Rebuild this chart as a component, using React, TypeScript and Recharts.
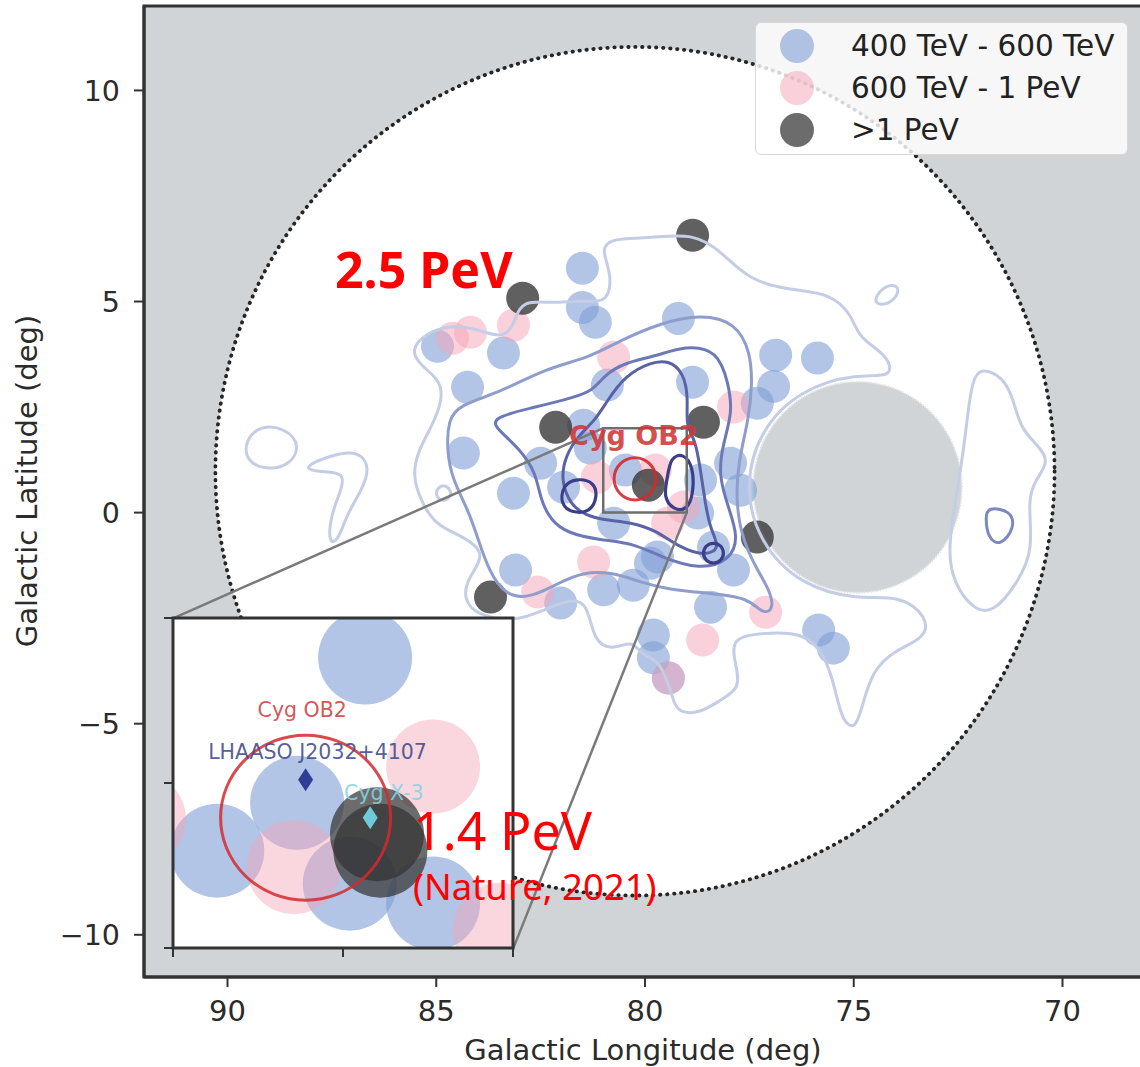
import React from 'react';
import {
  ComposedChart,
  XAxis,
  YAxis,
  CartesianGrid,
  Scatter,
  Line,
  ReferenceArea,
  Legend,
} from 'recharts';

// ---- main panel axes (galactic l, b in deg) ----
const lonDomain: [number, number] = [68, 92];
const latDomain: [number, number] = [-11, 12];
const lonTicks = [90, 85, 80, 75, 70];
const latTicks = [10, 5, 0, -5, -10];

// field of view and the masked region, [l, b, radius]
const fieldOfView = [[80.24, 0.98, 10.05]];
const maskedRegion = [[74.91, 0.6, 2.5]];

// photon directions [l, b]
const photons400to600 = [
  [81.5, 5.79], [81.5, 4.86], [81.19, 4.51], [79.2, 4.6], [83.39, 3.78], [84.97, 3.94],
  [84.25, 2.97], [80.9, 3.02], [78.86, 3.09], [76.87, 3.73], [75.87, 3.66], [76.92, 2.99],
  [77.31, 2.59], [84.35, 1.41], [82.5, 1.17], [81.31, 1.53], [83.15, 0.46], [81.95, 0.6],
  [78.67, 0.77], [80.75, -0.25], [78.74, -0.01], [77.95, 1.17], [77.71, 0.53], [78.36, -0.82],
  [77.88, -1.36], [79.7, -1.05], [83.1, -1.36], [82.02, -2.14], [80.99, -1.83], [80.28, -1.72],
  [79.87, -1.2], [78.43, -2.24], [79.8, -2.9], [79.8, -3.44], [79.44, -3.92], [75.84, -2.78],
  [75.49, -3.21], [81.47, 2.07], [80.47, 1.01],
];
const photons600to1000 = [
  [84.61, 4.13], [84.18, 4.27], [83.15, 4.44], [80.75, 3.68], [77.88, 2.5], [81.14, 0.84],
  [79.08, 0.13], [81.23, -1.17], [82.57, -1.88], [77.11, -2.36], [78.62, -3.02], [79.44, -3.92],
  [79.46, -0.25], [79.75, 1.01],
];
const photonsAbove1PeV = [
  [78.86, 6.57], [82.93, 5.08], [82.14, 2.02], [78.6, 2.14], [79.92, 0.65], [77.31, -0.58],
  [83.7, -2.0],
];

// significance contours, closed outlines [l, b]
const contourOuter = [
  [85.62, 3.85], [85.26, 4.25], [84.66, 4.44], [84.06, 4.37], [83.34, 4.08], [83.1, 4.6],
  [82.93, 5.03], [82.26, 4.96], [81.43, 5.03], [80.9, 4.96], [80.78, 5.62], [81.07, 6.26],
  [80.78, 6.5], [79.87, 6.5], [78.86, 6.62], [78.19, 6.21], [77.52, 5.5], [76.51, 5.27],
  [75.56, 5.2], [75.03, 4.67], [74.89, 4.13], [74.17, 3.73], [74.05, 3.18], [74.91, 3.3],
  [76.28, 2.92], [77.26, 1.95], [77.62, 0.6], [77.26, -0.72], [76.28, -1.72], [74.91, -2.07],
  [73.88, -1.95], [73.23, -2.47], [73.28, -2.97], [74.0, -3.25], [74.55, -3.73], [74.79, -4.56],
  [74.96, -5.15], [75.27, -4.96], [75.44, -4.2], [75.68, -3.37], [76.2, -2.83], [77.16, -2.85],
  [77.95, -2.95], [77.83, -3.61], [77.71, -4.15], [78.19, -4.44], [78.67, -4.75], [79.22, -4.75],
  [79.34, -4.37], [79.63, -3.49], [80.11, -3.37], [80.28, -3.02], [80.75, -3.25], [81.23, -3.09],
  [81.38, -2.07], [81.86, -2.07], [82.43, -2.31], [83.1, -2.59], [84.06, -2.43], [84.35, -2.02],
  [84.25, -1.55], [83.77, -0.96], [84.42, -0.53], [85.02, -0.3], [85.38, 0.3], [85.57, 0.89],
  [85.43, 1.48], [85.09, 2.07], [84.85, 2.66], [84.9, 3.14], [85.38, 3.49],
];
const contourEastLobe = [
  [71.96, 3.44], [71.41, 3.21], [71.17, 2.66], [71.01, 2.02], [70.65, 1.64], [70.29, 1.24],
  [70.65, 0.77], [70.84, 0.3], [70.69, -0.89], [71.08, -1.67], [71.65, -2.38], [72.13, -2.31],
  [72.61, -1.67], [72.75, -0.89], [72.56, 0.3], [72.37, 1.48], [72.28, 2.26], [72.16, 3.14],
];
const contourWestIsland = [
  [89.57, 1.72], [89.21, 2.07], [88.61, 2.0], [88.25, 1.6], [88.49, 1.12], [89.09, 1.0], [89.57, 1.24],
];
const contourWestTail = [
  [88.25, 1.05], [87.53, 1.36], [86.86, 1.48], [86.57, 1.05], [86.81, 0.49], [87.15, -0.06],
  [87.34, -0.65], [87.58, -0.77], [87.53, -0.06], [87.29, 0.49], [87.17, 0.96], [87.77, 0.96],
];
const contourSmallRing = [[85.08, 0.46], [84.83, 0.72], [84.57, 0.46], [84.83, 0.2]];
const contourNorthEast = [[74.55, 5.03], [74.24, 5.41], [73.88, 5.38], [74.0, 5.03], [74.36, 4.89]];
const contourLevel2 = [
  [84.47, 2.54], [83.46, 2.85], [82.38, 3.42], [81.35, 3.66], [80.59, 4.08], [79.63, 4.49],
  [78.67, 4.7], [77.83, 4.51], [77.47, 3.8], [77.43, 3.02], [77.52, 2.19], [77.76, 1.24],
  [77.83, 0.3], [77.67, -0.65], [77.31, -1.36], [76.95, -1.95], [76.95, -2.36], [77.23, -2.36],
  [77.52, -2.02], [78.43, -1.91], [79.39, -1.83], [80.11, -1.65], [80.78, -1.41], [81.5, -1.41],
  [82.07, -1.67], [82.74, -2.02], [83.34, -1.98], [83.75, -1.36], [83.99, -0.65], [84.23, 0.06],
  [84.61, 0.77], [84.75, 1.48], [84.71, 2.19],
];
const contourLevel3 = [
  [83.75, 2.24], [82.62, 2.5], [81.98, 2.66], [81.26, 2.85], [80.99, 3.25], [80.47, 3.56],
  [79.75, 3.7], [79.03, 3.96], [78.26, 3.85], [78.0, 3.06], [77.9, 2.38], [78.14, 1.6],
  [78.24, 0.89], [78.0, 0.11], [77.76, -0.58], [77.95, -1.12], [78.67, -1.36], [79.63, -1.05],
  [80.28, -0.72], [81.07, -0.65], [81.86, -0.49], [82.26, -0.18], [82.5, 0.3], [82.62, 0.96],
  [82.98, 1.48], [83.46, 1.91],
];
const contourLevel4 = [
  [81.19, 2.19], [80.9, 2.66], [80.47, 3.25], [79.87, 3.56], [79.44, 3.61], [79.08, 3.33],
  [78.96, 2.71], [79.03, 2.07], [78.79, 1.72], [78.67, 1.0], [78.55, 0.18], [78.43, -0.41],
  [78.19, -0.84], [78.55, -1.03], [79.15, -0.84], [79.75, -0.41], [80.35, -0.23], [80.95, -0.18],
  [81.43, -0.06], [81.78, 0.18], [82.02, 0.77], [81.9, 1.36], [81.59, 1.83],
];
const contourCoreWest = [[82.02, 0.18], [81.98, 0.65], [81.62, 0.82], [81.21, 0.72], [81.14, 0.37], [81.31, 0.01], [81.74, -0.01]];
const contourCoreEast = [[79.46, 0.84], [79.39, 1.31], [79.08, 1.41], [78.84, 1.08], [78.84, 0.46], [78.98, 0.06], [79.32, 0.06], [79.56, 0.37]];
const contourCoreRing = [
  [78.62, -0.96], [78.55, -0.78], [78.36, -0.7], [78.17, -0.78], [78.1, -0.96], [78.17, -1.14],
  [78.36, -1.22], [78.55, -1.14],
];
const contourEastSpot = [[71.8, 0.13], [71.25, 0.06], [71.13, -0.34], [71.49, -0.82], [71.8, -0.58], [71.84, -0.11]];

// Cyg OB2 region [l, b, radius] and its label
const cygOB2Region = [[80.24, 0.8, 0.5]];
const cygOB2Label = [{ x: 80.28, y: 1.83, text: 'Cyg OB2' }];

// zoom box and connector end points
const zoomLon: [number, number] = [79, 81];
const zoomLat: [number, number] = [0, 2];
const connectorTop = [[81, 2], [91.29, -2.5]];
const connectorBottom = [[79, 0], [83.15, -10.31]];

// ---- inset ----
const insetLonTicks = [81, 80, 79];
const insetLatTicks = [2, 1, 0];
const insetBlue = [[79.87, 1.76], [80.27, 0.88], [80.74, 0.59], [79.96, 0.39], [79.47, 0.27]];
const insetPink = [[79.47, 1.1], [80.29, 0.49], [79.08, 0.11], [81.2, 0.78]];
const insetDark = [[79.8, 0.69], [79.78, 0.59]];
const insetRegion = [[80.22, 0.79, 0.5]];
const lhaasoSource = [[80.22, 1.02]];
const cygX3 = [[79.84, 0.79]];
const insetLabels = [
  { x: 80.24, y: 1.44, text: 'Cyg OB2', color: '#d13f3f' },
  { x: 80.15, y: 1.19, text: 'LHAASO J2032+4107', color: '#3f4c8c' },
  { x: 79.76, y: 0.94, text: 'Cyg X-3', color: '#86d2e0' },
];

const legendEntries = [
  { name: '400 TeV - 600 TeV', fill: '#7f9ed6', opacity: 0.6 },
  { name: '600 TeV - 1 PeV', fill: '#f5a3b5', opacity: 0.5 },
  { name: '>1 PeV', fill: '#333333', opacity: 0.72 },
];

// layout
const W = 1150;
const H = 1067;
const MARGIN = { top: 6, right: 4, left: 0, bottom: 0 };
const Y_W = 144;
const X_H = 90;
const pxLon = (W - MARGIN.right - Y_W) / (lonDomain[1] - lonDomain[0]);
const pxLat = (H - MARGIN.top - X_H) / (latDomain[1] - latDomain[0]);
const IN_W = 340;
const IN_H = 330;
const inPxLon = IN_W / (zoomLon[1] - zoomLon[0]);
const inPxLat = IN_H / (zoomLat[1] - zoomLat[0]);

const BLUE = '#7f9ed6';
const PINK = '#f5a3b5';
const DARK = '#333333';
const FONT = "'DejaVu Sans', sans-serif";

const xy = (a: number[][]) => a.map(([x, y]) => ({ x, y }));
const xyr = (a: number[][]) => a.map(([x, y, r]) => ({ x, y, r }));

const disc = (r: number, fill: string, opacity: number) => (p: any) => (
  <circle cx={p.cx} cy={p.cy} r={r} fill={fill} fillOpacity={opacity} />
);

const skyCircle = (kx: number, ky: number, style: any) => (p: any) => (
  <ellipse cx={p.cx} cy={p.cy} rx={p.payload.r * kx} ry={p.payload.r * ky} {...style} />
);

const diamond = (w: number, h: number, fill: string) => (p: any) => (
  <path d={`M${p.cx},${p.cy - h}L${p.cx + w},${p.cy}L${p.cx},${p.cy + h}L${p.cx - w},${p.cy}Z`} fill={fill} />
);

const caption = (size: number, weight: number, color?: string) => (p: any) => (
  <text
    x={p.cx}
    y={p.cy}
    textAnchor="middle"
    dominantBaseline="central"
    fontFamily={FONT}
    fontSize={size}
    fontWeight={weight}
    fill={color || p.payload.color}
    fillOpacity={0.9}
  >
    {p.payload.text}
  </text>
);

const contours = [
  { id: 'outer', pts: contourOuter, color: '#c3cde5', w: 3 },
  { id: 'eastLobe', pts: contourEastLobe, color: '#c3cde5', w: 3 },
  { id: 'westIsland', pts: contourWestIsland, color: '#c3cde5', w: 3 },
  { id: 'westTail', pts: contourWestTail, color: '#c3cde5', w: 3 },
  { id: 'smallRing', pts: contourSmallRing, color: '#c3cde5', w: 3 },
  { id: 'northEast', pts: contourNorthEast, color: '#c3cde5', w: 3 },
  { id: 'l2', pts: contourLevel2, color: '#8f9dcd', w: 3 },
  { id: 'eastSpot', pts: contourEastSpot, color: '#7b88c2', w: 3 },
  { id: 'l3', pts: contourLevel3, color: '#6d79b7', w: 3 },
  { id: 'l4', pts: contourLevel4, color: '#5862a5', w: 3 },
  { id: 'coreW', pts: contourCoreWest, color: '#3a3d8a', w: 3.2 },
  { id: 'coreE', pts: contourCoreEast, color: '#3a3d8a', w: 3.2 },
  { id: 'coreRing', pts: contourCoreRing, color: '#3a3d8a', w: 3.2 },
];

const renderLegend = () => (
  <div
    style={{
      position: 'relative',
      width: 373,
      height: 133,
      boxSizing: 'border-box',
      background: 'rgba(255,255,255,0.82)',
      border: '1.5px solid #d8d8d8',
      borderRadius: 6,
      fontFamily: FONT,
      fontSize: 29.5,
      color: '#222',
    }}
  >
    {legendEntries.map((e, i) => (
      <div
        key={e.name}
        style={{ position: 'absolute', left: 0, top: 2 + i * 42, height: 42, display: 'flex', alignItems: 'center' }}
      >
        <svg width={84} height={42}>
          <circle cx={41} cy={21} r={17} fill={e.fill} fillOpacity={e.opacity} />
        </svg>
        <span style={{ marginLeft: 11, lineHeight: '42px', whiteSpace: 'nowrap' }}>{e.name}</span>
      </div>
    ))}
  </div>
);

const fmtLat = (v: number) => (v < 0 ? `\u2212${-v}` : `${v}`);

export default function App() {
  return (
    <div style={{ position: 'absolute', left: 0, top: 0, width: 1140, height: 1067, overflow: 'hidden', background: '#fff' }}>
      <ComposedChart width={W} height={H} margin={MARGIN}>
        <CartesianGrid fill="#d1d4d7" horizontal={false} vertical={false} />
        <XAxis
          type="number"
          dataKey="x"
          domain={lonDomain}
          reversed
          allowDataOverflow
          ticks={lonTicks}
          height={X_H}
          tickSize={10}
          tickMargin={13}
          tick={{ fill: '#2b2b2b', fontSize: 29, fontFamily: FONT }}
          axisLine={{ stroke: '#333', strokeWidth: 3 }}
          tickLine={{ stroke: '#333', strokeWidth: 2 }}
          label={{
            content: () => (
              <text x={643} y={1060} textAnchor="middle" fill="#2b2b2b" fontSize={29} fontFamily={FONT}>
                Galactic Longitude (deg)
              </text>
            ),
          }}
        />
        <YAxis
          type="number"
          dataKey="y"
          domain={latDomain}
          allowDataOverflow
          ticks={latTicks}
          width={Y_W}
          tickSize={10}
          tickMargin={14}
          tickFormatter={fmtLat}
          tick={{ fill: '#2b2b2b', fontSize: 28.5, fontFamily: FONT }}
          axisLine={{ stroke: '#333', strokeWidth: 3 }}
          tickLine={{ stroke: '#333', strokeWidth: 2 }}
          label={{
            content: () => (
              <text x={37} y={481} transform="rotate(-90 37 481)" textAnchor="middle" fill="#2b2b2b" fontSize={29} fontFamily={FONT}>
                Galactic Latitude (deg)
              </text>
            ),
          }}
        />

        <Scatter
          data={xyr(fieldOfView)}
          zIndex={10}
          isAnimationActive={false}
          shape={skyCircle(pxLon, pxLat, {
            fill: '#ffffff',
            stroke: '#262626',
            strokeWidth: 3.8,
            strokeDasharray: '0.4 6.6',
            strokeLinecap: 'round',
          })}
        />
        <Scatter
          data={xyr(maskedRegion)}
          zIndex={20}
          isAnimationActive={false}
          shape={skyCircle(pxLon, pxLat, {
            fill: '#d1d4d7',
            stroke: '#e4e6e9',
            strokeWidth: 2,
            strokeDasharray: '1.5 1.5',
          })}
        />

        <Scatter data={xy(photons400to600)} zIndex={30} isAnimationActive={false} shape={disc(16.5, BLUE, 0.6)} />
        <Scatter data={xy(photons600to1000)} zIndex={31} isAnimationActive={false} shape={disc(16.5, PINK, 0.5)} />
        <Scatter data={xy(photonsAbove1PeV)} zIndex={32} isAnimationActive={false} shape={disc(16.5, DARK, 0.78)} />

        {contours.map((c) => (
          <Line
            key={c.id}
            data={xy(c.pts)}
            dataKey="y"
            type="basisClosed"
            stroke={c.color}
            strokeWidth={c.w}
            dot={false}
            activeDot={false}
            legendType="none"
            zIndex={40}
            isAnimationActive={false}
          />
        ))}

        <ReferenceArea
          x1={zoomLon[0]}
          x2={zoomLon[1]}
          y1={zoomLat[0]}
          y2={zoomLat[1]}
          fill="none"
          stroke="#6e6e6e"
          strokeWidth={2.5}
          zIndex={50}
        />
        <Line data={xy(connectorTop)} dataKey="y" type="linear" stroke="#7a7a7a" strokeWidth={2.5} dot={false} activeDot={false} zIndex={50} isAnimationActive={false} />
        <Line data={xy(connectorBottom)} dataKey="y" type="linear" stroke="#7a7a7a" strokeWidth={2.5} dot={false} activeDot={false} zIndex={50} isAnimationActive={false} />

        <Scatter
          data={xyr(cygOB2Region)}
          zIndex={60}
          isAnimationActive={false}
          shape={skyCircle(pxLon, pxLat, { fill: 'none', stroke: '#d42a2e', strokeOpacity: 0.9, strokeWidth: 3 })}
        />
        <Scatter data={cygOB2Label} zIndex={70} isAnimationActive={false} shape={caption(27, 700, '#cf3636')} />

        <ReferenceArea
          x1={lonDomain[0]}
          x2={lonDomain[1]}
          y1={latDomain[0]}
          y2={latDomain[1]}
          fill="none"
          stroke="#333"
          strokeWidth={3}
          zIndex={90}
        />

        <Legend
          layout="horizontal"
          verticalAlign="middle"
          align="center"
          wrapperStyle={{ left: 755, top: 22, width: 373, height: 133 }}
          content={renderLegend}
        />
      </ComposedChart>

      <div style={{ position: 'absolute', left: 153, top: 608 }}>
        <ComposedChart width={370} height={360} margin={{ top: 10, right: 10, left: 0, bottom: 0 }}>
          <CartesianGrid fill="#ffffff" horizontal={false} vertical={false} />
          <XAxis
            type="number"
            dataKey="x"
            domain={zoomLon}
            reversed
            allowDataOverflow
            ticks={insetLonTicks}
            height={20}
            tickSize={9}
            tickFormatter={() => ''}
            axisLine={false}
            tickLine={{ stroke: '#333', strokeWidth: 2 }}
          />
          <YAxis
            type="number"
            dataKey="y"
            domain={zoomLat}
            allowDataOverflow
            ticks={insetLatTicks}
            width={20}
            tickSize={9}
            tickFormatter={() => ''}
            axisLine={false}
            tickLine={{ stroke: '#333', strokeWidth: 2 }}
          />
          <Scatter data={xy(insetBlue)} zIndex={30} isAnimationActive={false} shape={disc(47, BLUE, 0.6)} />
          <Scatter data={xy(insetPink)} zIndex={31} isAnimationActive={false} shape={disc(47, PINK, 0.45)} />
          <Scatter data={xy(insetDark)} zIndex={32} isAnimationActive={false} shape={disc(47, DARK, 0.72)} />
          <Scatter
            data={xyr(insetRegion)}
            zIndex={60}
            isAnimationActive={false}
            shape={skyCircle(inPxLon, inPxLat, { fill: 'none', stroke: '#d42a2e', strokeOpacity: 0.85, strokeWidth: 3 })}
          />
          <Scatter data={xy(lhaasoSource)} zIndex={61} isAnimationActive={false} shape={diamond(7.5, 11.5, '#2f3d94')} />
          <Scatter data={xy(cygX3)} zIndex={61} isAnimationActive={false} shape={diamond(7.5, 11.5, '#6fcad9')} />
          <Scatter data={insetLabels} zIndex={70} isAnimationActive={false} shape={caption(20.5, 400)} />
          <ReferenceArea
            x1={zoomLon[0]}
            x2={zoomLon[1]}
            y1={zoomLat[0]}
            y2={zoomLat[1]}
            fill="none"
            stroke="#333"
            strokeWidth={3}
            zIndex={90}
          />
        </ComposedChart>
      </div>

      <svg width={1140} height={1067} style={{ position: 'absolute', left: 0, top: 0, pointerEvents: 'none' }}>
        <text x={335} y={288} fontFamily="'Noto Sans', sans-serif" fontWeight={700} fontSize={50} fill="#ff0000">
          2.5 PeV
        </text>
        <text x={413} y={850} fontFamily="'Noto Sans', sans-serif" fontSize={52} fill="#ff0000">
          1.4 PeV
        </text>
        <text x={413} y={900} fontFamily="'Noto Sans', sans-serif" fontSize={36.5} fill="#ff0000">
          (Nature, 2021)
        </text>
      </svg>
    </div>
  );
}
